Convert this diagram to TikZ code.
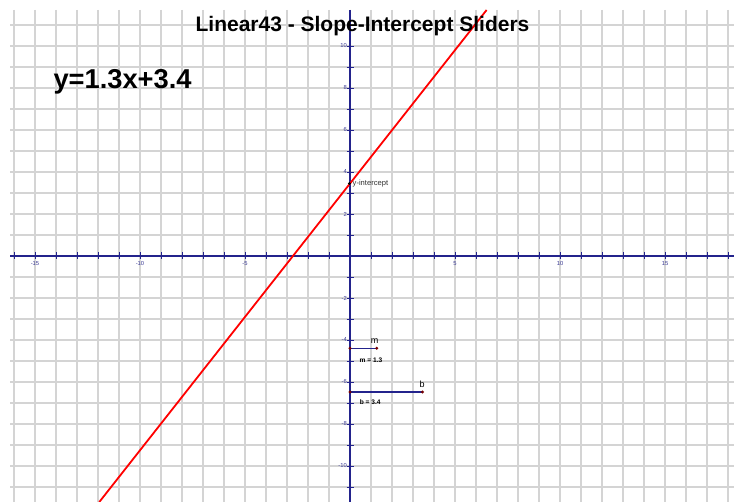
\documentclass[tikz,border=0pt]{standalone}
\usepackage{fontspec}
\setmainfont{Liberation Sans}
\definecolor{axisblue}{RGB}{35,35,140}
\definecolor{ticklbl}{RGB}{60,60,150}
\definecolor{gridgray}{RGB}{212,212,212}
\definecolor{dotred}{RGB}{120,0,0}
\tikzset{
  gridline/.style={draw=gridgray, line width=1.1},
  axisline/.style={draw=axisblue, line width=1.3},
  tickline/.style={draw=axisblue, line width=0.9},
  ticklabel/.style={text=ticklbl, inner sep=0pt, font=\fontsize{5.8}{6}\selectfont},
  sliderline/.style={draw=axisblue, line width=1.2},
  sliderdot/.style={fill=dotred},
  slidertext/.style={inner sep=0pt, font=\bfseries\fontsize{6.6}{8}\selectfont},
  slidername/.style={inner sep=0pt, font=\fontsize{9}{10}\selectfont},
}
\begin{document}
\begin{tikzpicture}[x=1pt,y=-1pt]
\useasboundingbox[fill=white] (0,0) rectangle (734,502);
% grid
\begin{scope}
\clip (10,10) rectangle (734,502);
\foreach \i in {-16,...,18} \draw[gridline] ({350+21*\i},10) -- ({350+21*\i},502);
\foreach \j in {-11,...,11} \draw[gridline] (10,{256+21*\j}) -- (734,{256+21*\j});
\end{scope}
% axes
\coordinate (xl) at (10,256);
\coordinate (xr) at (734,256);
\coordinate (yt) at (350,10);
\coordinate (yb) at (350,502);
\draw[axisline] (xl) -- (xr);
\draw[axisline] (yt) -- (yb);
\foreach \i in {-16,...,18} \draw[tickline] ({350+21*\i},252.5) -- ({350+21*\i},259.5);
\foreach \j in {-11,...,11} \draw[tickline] (346.5,{256-21*\j}) -- (353.5,{256-21*\j});
\foreach \i in {-15,-10,-5,5,10,15} \node[ticklabel] (xlab\i) at ({350+21*\i},263.5) {\i};
\foreach \j in {-10,-8,-6,-4,-2,2,4,6,8,10} \node[ticklabel, anchor=east] (ylab\j) at (347,{256-21*\j}) {\j};
% line y = 1.27x + 3.45
\coordinate (lbot) at (99.3,502);
\coordinate (ltop) at (486.6,10);
\draw[red, line width=1.8] (lbot) -- (ltop);
% y-intercept
\coordinate (yint) at (349.5,183.5);
\fill[black] (yint) circle (1.6);
\node[anchor=west, inner sep=0pt, text=black!80, font=\fontsize{7.6}{9}\selectfont] (yintlbl) at (352.5,184) {y-intercept};
% sliders
\coordinate (m0) at (350,348.3);
\coordinate (m1) at (376.7,348.3);
\coordinate (b0) at (350,392);
\coordinate (b1) at (422.4,392);
\draw[sliderline] (m0) -- (m1);
\draw[sliderline] (b0) -- (b1);
\foreach \p in {m0,m1,b0,b1} \fill[sliderdot] (\p) circle (1.6);
\node[slidername] (mname) at (374.5,341.5) {m};
\node[slidername] (bname) at (422.2,384.3) {b};
\node[slidertext] (mval) at (371,360) {m = 1.3};
\node[slidertext] (bval) at (370.2,402.3) {b = 3.4};
% title and equation
\node[anchor=base, inner sep=0pt, font=\bfseries\fontsize{21}{24}\selectfont] (title) at (362.5,32) {Linear43 - Slope-Intercept Sliders};
\node[anchor=base west, inner sep=0pt, font=\bfseries\fontsize{27.3}{30}\selectfont] (eqn) at (53.3,88.3) {y=1.3x+3.4};
\end{tikzpicture}
\end{document}
